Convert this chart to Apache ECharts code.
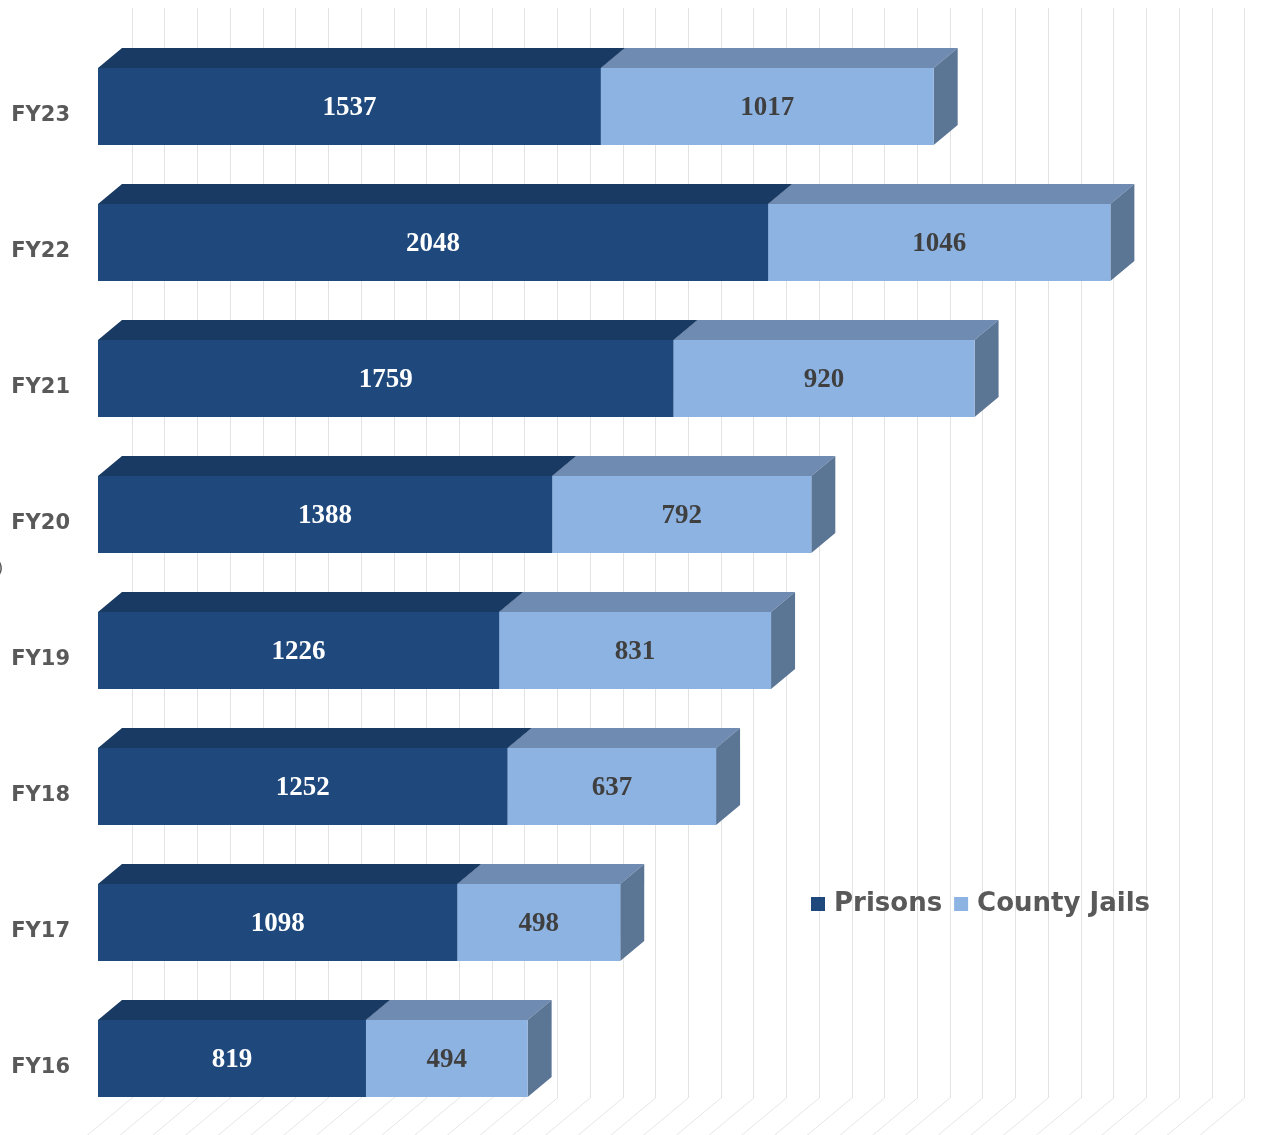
<!DOCTYPE html>
<html>
<head>
<meta charset="utf-8">
<script src="https://cdn.jsdelivr.net/npm/echarts@6/dist/echarts.min.js"></script>
<style>
html,body{margin:0;padding:0;background:#fff;}
#chart{width:1275px;height:1135px;}
</style>
</head>
<body>
<div id="chart"></div>
<script>
// ---- data ----
const categories = ['FY16','FY17','FY18','FY19','FY20','FY21','FY22','FY23'];
const prisons = [819, 1098, 1252, 1226, 1388, 1759, 2048, 1537];
const countyJails = [494, 498, 637, 831, 792, 920, 1046, 1017];
const axisMax = 3400;
const axisInterval = 100;

// ---- styles ----
const DEPTH_X = 24, DEPTH_Y = -20;
const faces = [
  {front:'#1F497D', top:'#193A62', side:'#16304F', label:'#FFFFFF'},
  {front:'#8DB3E2', top:'#6F8BB2', side:'#5B7595', label:'#3F3F3F'}
];

const prisonData = categories.map((c,i)=>[0, prisons[i], i, prisons[i]]);
const jailData = categories.map((c,i)=>[prisons[i], prisons[i]+countyJails[i], i, countyJails[i]]);

function makeRender(si){
  const f = faces[si];
  return function(params, api){
    const cat = api.value(2);
    const p0 = api.coord([api.value(0), cat]);
    const p1 = api.coord([api.value(1), cat]);
    const band = api.size([0,1])[1];
    const h = band*0.566;
    const x0 = p0[0], x1 = p1[0];
    const y0 = p0[1]-h/2, y1 = p0[1]+h/2;
    return {
      type:'group',
      children:[
        {type:'polygon', shape:{points:[[x0,y0],[x1,y0],[x1+DEPTH_X,y0+DEPTH_Y],[x0+DEPTH_X,y0+DEPTH_Y]]}, style:{fill:f.top}},
        {type:'polygon', shape:{points:[[x1,y0],[x1+DEPTH_X,y0+DEPTH_Y],[x1+DEPTH_X,y1+DEPTH_Y],[x1,y1]]}, style:{fill:f.side}},
        {type:'rect', shape:{x:x0, y:y0, width:x1-x0, height:y1-y0}, style:{fill:f.front}},
        {type:'text', style:{text:String(api.value(3)), x:(x0+x1)/2, y:p0[1]+2, align:'center', verticalAlign:'middle',
          fill:f.label, fontSize:27, fontWeight:'bold', fontFamily:'"Liberation Serif", serif'}}
      ]
    };
  };
}

// floor lines follow the back-wall axis ticks
const floorTicks = [];
for (let v = 0; v <= axisMax; v += axisInterval) floorTicks.push([v]);

const chart = echarts.init(document.getElementById('chart'), null, {renderer:'canvas'});
chart.setOption({
  animation:false,
  color:['#1F497D','#8DB3E2'],
  graphic:[{type:'text', left:-3, top:561, style:{text:')', fontSize:16, fill:'#595959', fontFamily:'DejaVu Sans'}}],
  legend:{
    data:['Prisons','County Jails'],
    left:806, top:886,
    icon:'rect', itemWidth:14, itemHeight:14, itemGap:12,
    textStyle:{fontSize:26, fontWeight:'bold', fontFamily:'"DejaVu Sans", Verdana, sans-serif', color:'#595959', padding:[0,0,0,4]}
  },
  grid:[
    {left:98, right:64.5, top:38.5, bottom:8.5},
    {left:132, right:30.5, top:8, bottom:37}
  ],
  xAxis:[
    {gridIndex:0, type:'value', min:0, max:axisMax, interval:axisInterval, show:false, splitLine:{show:false}},
    {gridIndex:1, type:'value', min:0, max:axisMax, interval:axisInterval,
      axisLabel:{show:false}, axisLine:{show:false}, axisTick:{show:false},
      splitLine:{show:true, lineStyle:{color:'#E3E3E3', width:1}}}
  ],
  yAxis:[
    {gridIndex:0, type:'category', data:categories, axisLine:{show:false}, axisTick:{show:false},
      splitLine:{show:false},
      axisLabel:{margin:28, formatter:'{a|{value}}',
        rich:{a:{fontSize:21, fontWeight:'bold', fontFamily:'"DejaVu Sans", Verdana, sans-serif', color:'#595959', padding:[18,0,0,0]}}}},
    {gridIndex:1, type:'value', min:0, max:1, show:false, splitLine:{show:false}}
  ],
  series:[
    {type:'custom', name:'floor', xAxisIndex:1, yAxisIndex:1, data:floorTicks, silent:true, z:1,
      renderItem:function(params, api){
        const p = api.coord([api.value(0), 0]);
        return {type:'line', shape:{x1:p[0], y1:p[1], x2:p[0]-60, y2:p[1]+50}, style:{stroke:'#E6E6E6', lineWidth:1}};
      }},
    {type:'custom', name:'Prisons', xAxisIndex:0, yAxisIndex:0, data:prisonData, renderItem:makeRender(0), z:3,
      encode:{x:[0,1], y:2}, itemStyle:{color:'#1F497D'}},
    {type:'custom', name:'County Jails', xAxisIndex:0, yAxisIndex:0, data:jailData, renderItem:makeRender(1), z:4,
      encode:{x:[0,1], y:2}, itemStyle:{color:'#8DB3E2'}}
  ]
});
</script>
</body>
</html>
